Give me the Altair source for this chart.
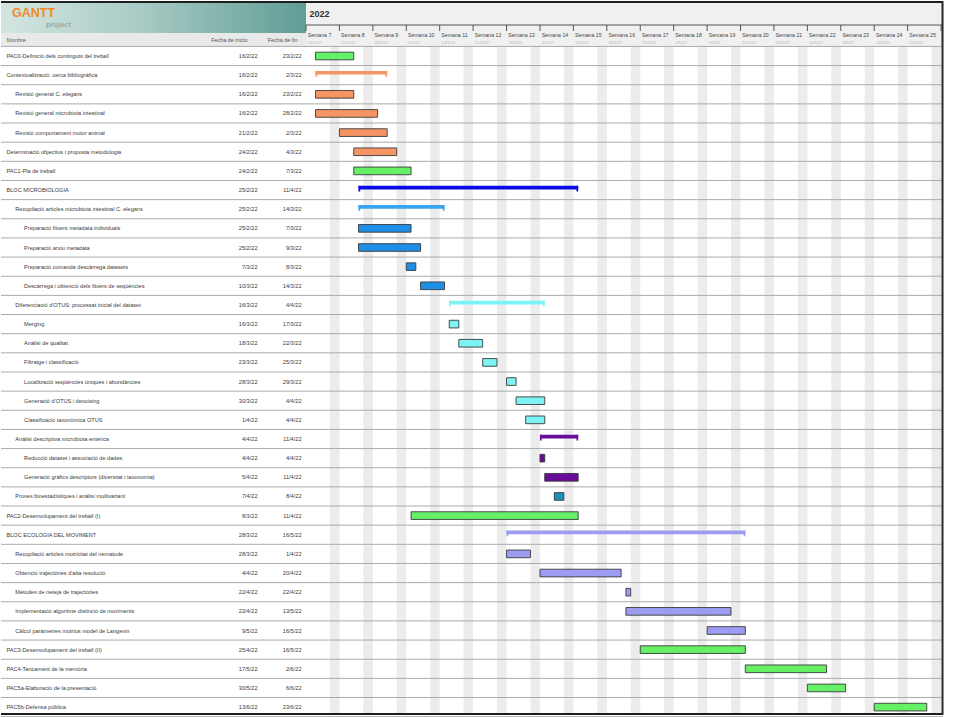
import altair as alt
import pandas as pd
from datetime import datetime

# ---------------- data ----------------
names = [
    "PAC0-Definició dels continguts del treball",
    "Contextualització: cerca bibliogràfica",
    "Revisió general C. elegans",
    "Revisió general microbiota intestinal",
    "Revisió comportament motor animal",
    "Determinació objectius i proposta metodologia",
    "PAC1-Pla de treball",
    "BLOC MICROBIOLOGIA",
    "Recopilació articles microbiota intestinal C. elegans",
    "Preparació fitxers metadata individuals",
    "Preparació arxiu metadata",
    "Preparació comanda descàrrega datasets",
    "Descàrrega i obtenció dels fitxers de seqüències",
    "Diferenciació d'OTUS: processat inicial del dataset",
    "Merging",
    "Anàlisi de qualitat",
    "Filtratge i classificació",
    "Localització seqüències úniques i abundàncies",
    "Generació d'OTUS i denoising",
    "Classificació taxonòmica OTUS",
    "Anàlisi descriptiva microbiota entèrica",
    "Reducció dataset i associació de dades",
    "Generació gràfics descriptors (diversitat i taxonomia)",
    "Proves bioestadístiques i anàlisi multivariant",
    "PAC2-Desenvolupament del treball (I)",
    "BLOC ECOLOGIA DEL MOVIMENT",
    "Recopilació articles motricitat del nematode",
    "Obtenció trajectòries d'alta resolució",
    "Mètodes de neteja de trajectòries",
    "Implementació algoritme distinció de moviments",
    "Càlcul paràmetres motrius model de Langevin",
    "PAC3-Desenvolupament del treball (II)",
    "PAC4-Tancament de la memòria",
    "PAC5a-Elaboració de la presentació",
    "PAC5b-Defensa pública",
]
levels = [0, 0, 1, 1, 1, 0, 0, 0, 1, 2, 2, 2, 2, 1, 2, 2, 2, 2, 2, 2, 1, 2, 2, 1,
          0, 0, 1, 1, 1, 1, 1, 0, 0, 0, 0]
starts = ["16/2/22", "16/2/22", "16/2/22", "16/2/22", "21/2/22", "24/2/22", "24/2/22",
          "25/2/22", "25/2/22", "25/2/22", "25/2/22", "7/3/22", "10/3/22", "16/3/22",
          "16/3/22", "18/3/22", "23/3/22", "28/3/22", "30/3/22", "1/4/22", "4/4/22",
          "4/4/22", "5/4/22", "7/4/22", "8/3/22", "28/3/22", "28/3/22", "4/4/22",
          "22/4/22", "22/4/22", "9/5/22", "25/4/22", "17/5/22", "30/5/22", "13/6/22"]
ends = ["23/2/22", "2/3/22", "23/2/22", "28/2/22", "2/3/22", "4/3/22", "7/3/22",
        "11/4/22", "14/3/22", "7/3/22", "9/3/22", "8/3/22", "14/3/22", "4/4/22",
        "17/3/22", "22/3/22", "25/3/22", "29/3/22", "4/4/22", "4/4/22", "11/4/22",
        "4/4/22", "11/4/22", "8/4/22", "11/4/22", "16/5/22", "1/4/22", "20/4/22",
        "22/4/22", "13/5/22", "16/5/22", "16/5/22", "2/6/22", "6/6/22", "23/6/22"]
color_group = ["green", "orange", "orange", "orange", "orange", "orange", "green",
               "navy", "sky", "blue", "blue", "blue", "blue", "cyan",
               "cyan", "cyan", "cyan", "cyan", "cyan", "cyan", "purple",
               "purple", "purple", "teal", "green", "lavender", "lavender", "lavender",
               "lavender", "lavender", "lavender", "green", "green", "green", "green"]
is_summary = [False, True, False, False, False, False, False,
              True, True, False, False, False, False, True,
              False, False, False, False, False, False, True,
              False, False, False, False, True, False, False,
              False, False, False, False, False, False, False]

group_keys = ["green", "orange", "navy", "sky", "blue", "cyan", "purple", "teal", "lavender"]
group_colors = ["#66f066", "#f79463", "#0a0ae8", "#38a4f2", "#1e8fe6", "#7ef3f3",
                "#6a0c9a", "#1f8fb8", "#9c9cf2"]

week_numbers = list(range(7, 26))
week_dates = ["14/2/22", "21/2/22", "28/2/22", "7/3/22", "14/3/22", "21/3/22", "28/3/22",
              "4/4/22", "11/4/22", "18/4/22", "25/4/22", "2/5/22", "9/5/22", "16/5/22",
              "23/5/22", "30/5/22", "6/6/22", "13/6/22", "20/6/22"]
year_label = "2022"
col_headers = ["Nombre", "Fecha de inicio", "Fecha de fin"]

# ---------------- derived tables ----------------
def parse(s):
    return datetime.strptime(s, "%d/%m/%y")

origin = parse(week_dates[0])
df = pd.DataFrame({"name": names, "level": levels, "start": starts, "end": ends,
                   "grp": color_group, "summary": is_summary})
df["row"] = range(len(df))
df["yc"] = df["row"] + 0.5
df["d0"] = [(parse(s) - origin).days for s in starts]
df["d1"] = [(parse(e) - origin).days + 1 for e in ends]
df["indent"] = 5.5 + 8.8 * df["level"]

tasks = df[~df["summary"]].copy()
tasks["ya"] = tasks["yc"] - 0.2
tasks["yb"] = tasks["yc"] + 0.2

summ = df[df["summary"]].copy()
summ["ya"] = summ["yc"] - 0.22
summ["yb"] = summ["yc"] - 0.03
tip_l = summ.copy()
tip_l["xa"] = tip_l["d0"]
tip_l["xb"] = tip_l["d0"] + 0.35
tip_r = summ.copy()
tip_r["xa"] = tip_r["d1"] - 0.35
tip_r["xb"] = tip_r["d1"]
tips = pd.concat([tip_l, tip_r])
tips["ya"] = tips["yc"] - 0.22
tips["yb"] = tips["yc"] + 0.08

weeks = pd.DataFrame({"num": week_numbers, "date": week_dates})
weeks["label"] = "Semana " + weeks["num"].astype(str)
weeks["day"] = [(parse(d) - origin).days for d in week_dates]
weeks["lx"] = weeks["day"] + 0.35
weeks["ws"] = weeks["day"] + 5
weeks["we"] = weeks["day"] + 7
ticks = pd.DataFrame({"day": list(weeks["day"]) + [weeks["day"].max() + 7]})

bounds = pd.DataFrame({"b": list(range(len(names) + 1))})

# ---------------- layout constants ----------------
H = 714
LW = 305
RW = 638
PX_DAY = 4.775
ROW_PX = 19.15
Y0 = 55.0  # center of first row
HEADER_BOTTOM = Y0 - ROW_PX / 2
d_lo = 0.5 - Y0 / ROW_PX
yscale = alt.Scale(domain=[d_lo, d_lo + H / ROW_PX], reverse=True, nice=False, zero=False)
xscale = alt.Scale(domain=[0, RW / PX_DAY], nice=False, zero=False)
FONT = "Liberation Sans"
TXT = "#3a3a3a"
LINE = "#ababab"


def Y(f):
    return alt.Y(f, type="quantitative", scale=yscale, axis=None)


def X(f):
    return alt.X(f, type="quantitative", scale=xscale, axis=None)


# ---------------- left panel (table) ----------------
logo_grad = alt.Gradient(
    gradient="linear",
    stops=[alt.GradientStop(color="#d3e5e1", offset=0),
           alt.GradientStop(color="#a9cbc5", offset=0.45),
           alt.GradientStop(color="#5f9d95", offset=1)],
    x1=0, x2=1, y1=0, y2=0)
base_one = alt.Chart(pd.DataFrame({"k": [0]}))

logo = base_one.mark_rect(color=logo_grad).encode(
    x=alt.value(0), x2=alt.value(LW), y=alt.value(2), y2=alt.value(32))
logo_g = base_one.mark_text(text="GANTT", font=FONT, fontSize=12.5, fontWeight="bold",
                            color="#f08a24", align="left", baseline="middle").encode(
    x=alt.value(11), y=alt.value(11.5))
logo_p = base_one.mark_text(text="project", font="DejaVu Serif", fontSize=7, fontStyle="italic",
                            color="#8a8f8f", align="left", baseline="middle").encode(
    x=alt.value(45), y=alt.value(24))

hdr_bg_l = base_one.mark_rect(color="#e9e9e9").encode(
    x=alt.value(0), x2=alt.value(LW), y=alt.value(32), y2=alt.value(HEADER_BOTTOM))
hdr_df = pd.DataFrame({"t": col_headers})
hdr_t1 = alt.Chart(hdr_df.iloc[[0]]).mark_text(font=FONT, fontSize=5.4, color="#555",
                                               align="left", baseline="middle").encode(
    text="t:N", x=alt.value(5.5), y=alt.value(38.8))
hdr_t2 = alt.Chart(hdr_df.iloc[[1]]).mark_text(font=FONT, fontSize=5.4, color="#555",
                                               align="right", baseline="middle").encode(
    text="t:N", x=alt.value(246.5), y=alt.value(38.8))
hdr_t3 = alt.Chart(hdr_df.iloc[[2]]).mark_text(font=FONT, fontSize=5.4, color="#555",
                                               align="right", baseline="middle").encode(
    text="t:N", x=alt.value(296.5), y=alt.value(38.8))

lines_l = alt.Chart(bounds).mark_rule(color=LINE, strokeWidth=1).encode(
    y=Y("b"), x=alt.value(0), x2=alt.value(LW))

name_txt = alt.Chart(df).mark_text(font=FONT, fontSize=5.6, color=TXT, align="left",
                                   baseline="middle").encode(
    x=alt.X("indent:Q", scale=alt.Scale(domain=[0, LW], nice=False, zero=False), axis=None),
    y=Y("yc"), text="name:N")
start_txt = alt.Chart(df).mark_text(font=FONT, fontSize=5.6, color=TXT, align="right",
                                    baseline="middle").encode(
    x=alt.value(256.5), y=Y("yc"), text="start:N")
end_txt = alt.Chart(df).mark_text(font=FONT, fontSize=5.6, color=TXT, align="right",
                                  baseline="middle").encode(
    x=alt.value(300.5), y=Y("yc"), text="end:N")

top_l = base_one.mark_rule(color="#1e1e1e", strokeWidth=2).encode(
    x=alt.value(0), x2=alt.value(LW), y=alt.value(1))
bot_l = base_one.mark_rule(color="#1e1e1e", strokeWidth=2).encode(
    x=alt.value(0), x2=alt.value(LW), y=alt.value(H - 1))

left = alt.layer(logo, logo_g, logo_p, hdr_bg_l, hdr_t1, hdr_t2, hdr_t3, lines_l,
                 name_txt, start_txt, end_txt, top_l, bot_l).properties(width=LW, height=H)

# ---------------- right panel (gantt) ----------------
hdr_bg_r = base_one.mark_rect(color="#f0f0f0").encode(
    x=alt.value(0), x2=alt.value(RW), y=alt.value(2), y2=alt.value(HEADER_BOTTOM))
year_txt = base_one.mark_text(text=year_label, font=FONT, fontSize=9, fontWeight="bold",
                              color="#333", align="left", baseline="middle").encode(
    x=alt.value(3.5), y=alt.value(12.5))
hline = base_one.mark_rule(color="#555", strokeWidth=1).encode(
    x=alt.value(0), x2=alt.value(RW - 2), y=alt.value(24))
tick_r = alt.Chart(ticks).mark_rule(color="#555", strokeWidth=1).encode(
    x=X("day"), y=alt.value(24), y2=alt.value(30))
wk_lbl = alt.Chart(weeks).mark_text(font=FONT, fontSize=5.2, color="#444", align="left",
                                    baseline="middle").encode(
    x=X("lx"), y=alt.value(33.5), text="label:N")
wk_date = alt.Chart(weeks).mark_text(font=FONT, fontSize=4.2, color="#b8b8b8", align="left",
                                     baseline="middle").encode(
    x=X("lx"), y=alt.value(41.5), text="date:N")

weekend = alt.Chart(weeks).mark_rect(color="#ececec").encode(
    x=X("ws"), x2="we:Q", y=alt.value(HEADER_BOTTOM), y2=alt.value(H))
lines_r = alt.Chart(bounds).mark_rule(color=LINE, strokeWidth=1).encode(
    y=Y("b"), x=alt.value(0), x2=alt.value(RW - 1))

color = alt.Color("grp:N", scale=alt.Scale(domain=group_keys, range=group_colors), legend=None)

sum_bar = alt.Chart(summ).mark_rect().encode(
    x=X("d0"), x2="d1:Q", y=Y("ya"), y2="yb:Q", color=color)
sum_tip = alt.Chart(tips).mark_rect().encode(
    x=X("xa"), x2="xb:Q", y=Y("ya"), y2="yb:Q", color=color)
task_bar = alt.Chart(tasks).mark_rect(stroke="#3a3a3a", strokeWidth=0.9).encode(
    x=X("d0"), x2="d1:Q", y=Y("ya"), y2="yb:Q", color=color)

top_r = base_one.mark_rule(color="#1e1e1e", strokeWidth=2).encode(
    x=alt.value(0), x2=alt.value(RW - 1), y=alt.value(1))
bot_r = base_one.mark_rule(color="#1e1e1e", strokeWidth=2).encode(
    x=alt.value(0), x2=alt.value(RW - 1), y=alt.value(H - 1))
right_b = base_one.mark_rule(color="#2a2a2a", strokeWidth=2).encode(
    x=alt.value(RW - 1.5), y=alt.value(0), y2=alt.value(H))

right = alt.layer(hdr_bg_r, weekend, lines_r, hline, tick_r, wk_lbl, wk_date, year_txt,
                  sum_bar, sum_tip, task_bar, top_r, bot_r, right_b).properties(width=RW, height=H)

chart = alt.hconcat(left, right, spacing=0, bounds="flush").properties(
    padding=0, background="white").configure_view(stroke=None)

chart.save("out.html", embed_options={"renderer": "svg", "actions": False})
